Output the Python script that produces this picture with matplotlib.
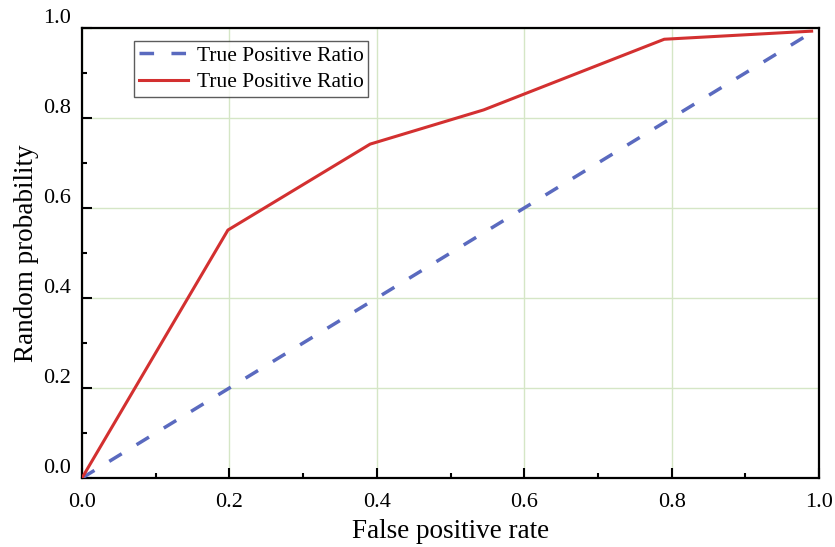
import matplotlib.pyplot as plt
from matplotlib.ticker import MultipleLocator

fpr_random = [0.0, 0.99]
tpr_random = [0.0, 0.99]

fpr_model = [0.0, 0.198, 0.391, 0.545, 0.79, 0.99]
tpr_model = [0.0, 0.551, 0.742, 0.818, 0.975, 0.993]

legend_labels = ['True Positive Ratio', 'True Positive Ratio']

plt.rcParams['font.family'] = ['Liberation Serif', 'DejaVu Serif']

fig = plt.figure(figsize=(8.35, 5.47), dpi=100)
ax = fig.add_axes([82 / 835, 1 - 478 / 547, 737 / 835, 450 / 547])

ax.plot(fpr_random, tpr_random, color='#5a6abf', lw=2.5, ls=(0, (4.2, 5.0)),
        label=legend_labels[0], zorder=3)
ax.plot(fpr_model, tpr_model, color='#d33030', lw=2.2,
        label=legend_labels[1], zorder=4)

ax.set_xlim(0, 1)
ax.set_ylim(0, 1)
ax.xaxis.set_major_locator(MultipleLocator(0.2))
ax.xaxis.set_minor_locator(MultipleLocator(0.1))
ax.yaxis.set_major_locator(MultipleLocator(0.2))
ax.yaxis.set_minor_locator(MultipleLocator(0.1))
ax.tick_params(which='both', direction='in', top=False, right=False,
               width=1.5, labelsize=16)
ax.tick_params(which='major', length=7)
ax.tick_params(which='minor', length=3.5)
ax.tick_params(axis='x', pad=11)
ax.tick_params(axis='y', pad=8)
for lab in ax.get_yticklabels():
    lab.set_verticalalignment('bottom')

ax.grid(True, which='major', color='#d5e6c6', lw=1.0, zorder=0)
for s in ax.spines.values():
    s.set_linewidth(1.6)

ax.set_xlabel('False positive rate', fontsize=19.5, labelpad=5)
ax.set_ylabel('Random probability', fontsize=19.5, labelpad=3)

leg = ax.legend(loc='upper left', bbox_to_anchor=(0.071, 0.97), fontsize=15.5,
                frameon=True, fancybox=False, edgecolor='#333333',
                handlelength=2.3, handletextpad=0.4, borderpad=0.2,
                labelspacing=0.3, borderaxespad=0)
leg.get_frame().set_linewidth(1.0)

fig.savefig('out.png', dpi=100)
